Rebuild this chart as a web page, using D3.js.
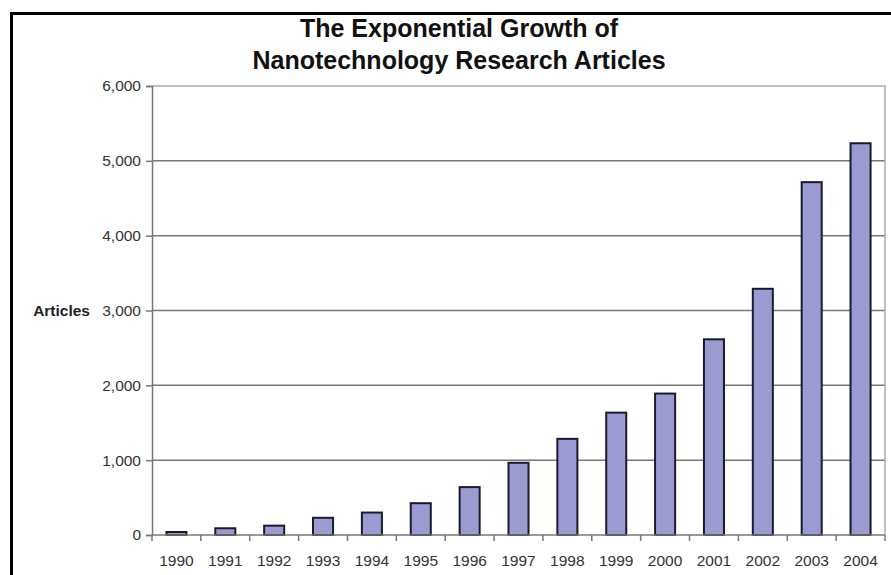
<!DOCTYPE html>
<html><head><meta charset="utf-8">
<script src="https://cdn.jsdelivr.net/npm/d3@7/dist/d3.min.js"></script>
<style>body{margin:0;background:#fff;}svg{display:block;font-family:"Liberation Sans",Arial,sans-serif;}</style>
</head><body><svg id="c" width="891" height="575"></svg>
<script>
const years = ["1990","1991","1992","1993","1994","1995","1996","1997","1998","1999","2000","2001","2002","2003","2004"];
const articles = [40, 90, 125, 230, 300, 425, 640, 965, 1285, 1635, 1890, 2615, 3290, 4715, 5235];
const yTicks = [0, 1000, 2000, 3000, 4000, 5000, 6000];
const titleLines = ["The Exponential Growth of", "Nanotechnology Research Articles"];
const yLabel = "Articles";

const svg = d3.select("#c");
const m = {left: 152, right: 885, top: 86, bottom: 535};
const fs = 15.5;

// frame
svg.append("path").attr("d", `M11.5,575 V13.5 H891`).attr("fill","none").attr("stroke","#000").attr("stroke-width",3);

const x = d3.scaleBand().domain(years).range([m.left, m.right]).paddingInner(0.59).paddingOuter(0.295);
const y = d3.scaleLinear().domain([0, 6000]).range([m.bottom, m.top]);

// gridlines
svg.append("g").selectAll("line").data(yTicks.slice(1, -1)).join("line")
  .attr("x1", m.left).attr("x2", m.right).attr("y1", d => y(d)).attr("y2", d => y(d))
  .attr("stroke", "#777").attr("stroke-width", 1.5);
// plot border top & right
svg.append("path").attr("d", `M${m.left},${y(6000)} H${m.right} V${m.bottom}`)
  .attr("fill","none").attr("stroke","#aaa").attr("stroke-width",1.5);

// bars
svg.append("g").selectAll("rect").data(years).join("rect")
  .attr("x", d => x(d)).attr("width", x.bandwidth())
  .attr("y", (d, i) => y(articles[i])).attr("height", (d, i) => y(0) - y(articles[i]))
  .attr("fill", "#9b9bd2").attr("stroke", "#1a1a2e").attr("stroke-width", 2);

// y axis
const yAxis = d3.axisLeft(y).tickValues(yTicks).tickSize(6).tickPadding(5).tickFormat(d3.format(","));
const gy = svg.append("g").attr("transform", `translate(${m.left},0)`).call(yAxis)
  .attr("font-size", fs).attr("font-family", "Liberation Sans, Arial, sans-serif");
gy.select(".domain").attr("stroke", "#777").attr("stroke-width", 1.5);
gy.selectAll(".tick line").attr("stroke", "#777").attr("stroke-width", 1.5);
gy.selectAll(".tick text").attr("fill", "#333");

// x axis (ticks between categories)
const xEdge = d3.scaleLinear().domain([0, years.length]).range([m.left, m.right]);
const gx = svg.append("g");
gx.append("line").attr("x1", m.left).attr("x2", m.right).attr("y1", m.bottom).attr("y2", m.bottom)
  .attr("stroke", "#777").attr("stroke-width", 1.5);
gx.selectAll("line.t").data(d3.range(years.length + 1)).join("line").attr("class","t")
  .attr("x1", d => xEdge(d)).attr("x2", d => xEdge(d)).attr("y1", m.bottom).attr("y2", m.bottom + 6)
  .attr("stroke", "#777").attr("stroke-width", 1.5);
gx.selectAll("text").data(years).join("text")
  .attr("x", d => x(d) + x.bandwidth() / 2).attr("y", 566)
  .attr("text-anchor", "middle").attr("font-size", fs).attr("fill", "#333").text(d => d);

// y label
svg.append("text").attr("x", 90).attr("y", y(3000)).attr("dy", "0.35em").attr("text-anchor", "end")
  .attr("font-size", fs).attr("font-weight", "bold").attr("fill", "#222").text(yLabel);

// title
svg.append("g").selectAll("text").data(titleLines).join("text")
  .attr("x", 459).attr("y", (d, i) => 37 + i * 32).attr("text-anchor", "middle")
  .attr("font-size", 25).attr("font-weight", "bold").attr("fill", "#111").text(d => d);
</script></body></html>
